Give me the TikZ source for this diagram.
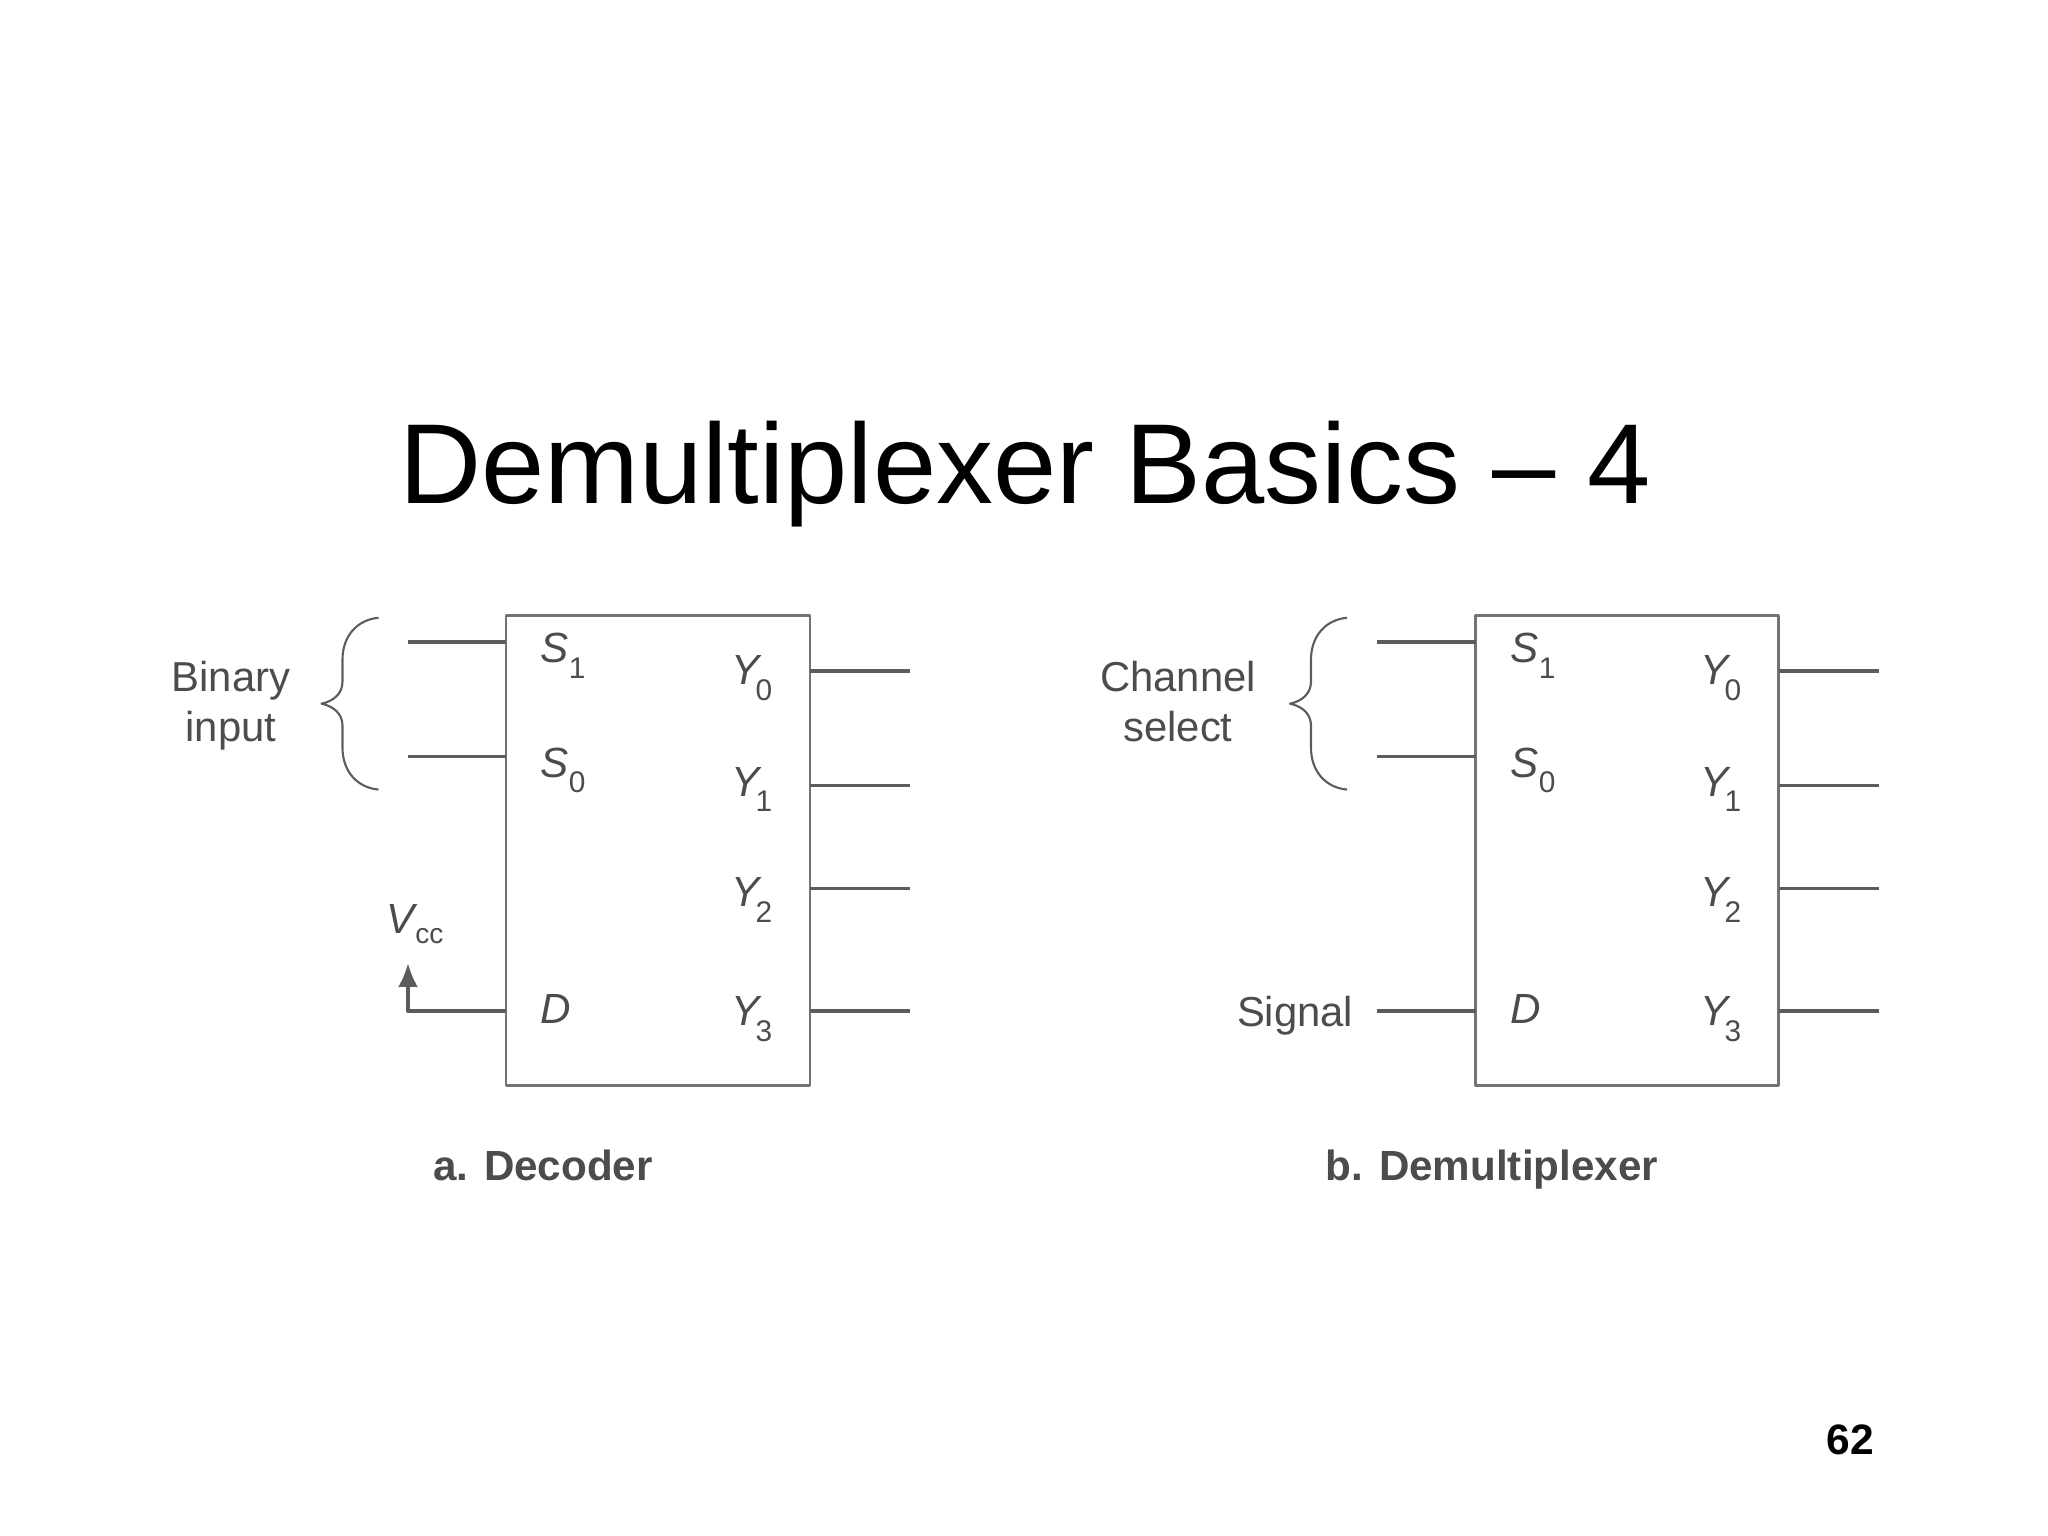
\documentclass[tikz,border=0pt]{standalone}
\usepackage{fontspec}
\usetikzlibrary{arrows.meta}
\setmainfont{Liberation Sans}
\definecolor{figink}{gray}{0.30}
\definecolor{figwire}{gray}{0.36}
\definecolor{figbox}{gray}{0.45}
\newcommand{\pinsub}[2]{\textit{#1}\raisebox{-4.4pt}{\fontsize{8.5}{10}\selectfont #2}}
\tikzset{
chipbox/.style={draw=figbox, line width=.85pt, inner sep=0pt, outer sep=0pt, minimum width=#1, minimum height=4.706cm},
wire/.style={draw=figwire, line width=1.1pt},
pinlabel/.style={anchor=base west, inner sep=0pt, text=figink, font=\fontsize{12}{14}\selectfont},
sidelabel/.style={anchor=base, inner sep=0pt, text=figink, align=center, font=\fontsize{11.9}{14}\selectfont},
caption/.style={anchor=base, inner sep=0pt, text=figink, font=\bfseries\fontsize{12}{14}\selectfont},
inbrace/.pic={\draw[figwire, line width=.6pt] (.57,.859) .. controls (.36,.84) and (.21,.68) .. (.21,.44) -- (.21,.22) .. controls (.21,.10) and (.12,.025) .. (0,0) .. controls (.12,-.025) and (.21,-.10) .. (.21,-.22) -- (.21,-.44) .. controls (.21,-.68) and (.36,-.84) .. (.57,-.859);}
}
\begin{document}
\begin{tikzpicture}[>=stealth, line join=round]
\useasboundingbox (0,0) rectangle (20.48,15.36);
\node[anchor=base, inner sep=0pt, font=\fontsize{32.35}{36}\selectfont] (title) at (10.25,10.32) {Demultiplexer Basics -- 4};
\node[anchor=base, inner sep=0pt, font=\bfseries\fontsize{12.1}{14}\selectfont] (page) at (18.50,.81) {62};
\node[chipbox=3.04cm] (boxa) at (6.58,6.853) {};
\node[chipbox=3.03cm] (boxb) at (16.27,6.853) {};
% wires on the left and on the right
\foreach \b/\x in {a/4.08,b/13.77}
\foreach \p/\y in {S1/8.936,S0/7.795}{
\coordinate (\b\p) at (\x,\y);
\draw[wire] (\b\p) -- (\b\p -| box\b.west);
}
\foreach \b/\x in {a/9.10,b/18.79}
\foreach \p/\y/\w in {Y0/8.646/1.2,Y1/7.505/1.1,Y2/6.47/.85,Y3/5.247/1.1}{
\coordinate (\b\p) at (\x,\y);
\draw[wire, line width=\w pt] (\b\p -| box\b.east) -- (\b\p);
}
\path
(4.08,5.247) coordinate (aD)
(4.08,5.73) coordinate (vcc)
(13.77,5.247) coordinate (bD)
;
\draw[wire, -{Latex[length=2.4mm,width=2mm]}] (aD -| boxa.west) -- (aD) -- (vcc);
\draw[wire] (bD) -- (bD -| boxb.west);
% pin names
\foreach \b/\x/\z in {a/5.40/7.31,b/15.10/17.00}{
\node[pinlabel] (\b s1) at (\x,8.73) {\pinsub{S}{1}};
\node[pinlabel] (\b s0) at (\x,7.587) {\pinsub{S}{0}};
\node[pinlabel] (\b d) at (\x,5.12) {\textit{D}};
\foreach \n/\y in {0/8.51,1/7.395,2/6.29,3/5.10}
\node[pinlabel] (\b y\n) at (\z,\y) {\pinsub{Y\kern-1.2pt}{\n}};
}
\node[pinlabel] (vcclabel) at (3.86,6.02) {\textit{V}\kern-.8pt\raisebox{-2.7pt}{\fontsize{8}{10}\selectfont cc}};
\node[sidelabel, anchor=base east] (signal) at (13.54,5.09) {Signal};
% braces with their labels
\path (3.215,8.323) pic {inbrace};
\path (12.90,8.323) pic {inbrace};
\node[sidelabel] (binary) at (2.31,8.44) {Binary};
\node[sidelabel] (input) at (2.31,7.94) {input};
\node[sidelabel] (channel) at (11.78,8.44) {Channel};
\node[sidelabel] (select) at (11.78,7.94) {select};
% captions
\node[caption] (capa) at (5.43,3.55) {a. Decoder};
\node[caption] (capb) at (14.92,3.55) {b. Demultiplexer};
\end{tikzpicture}
\end{document}
